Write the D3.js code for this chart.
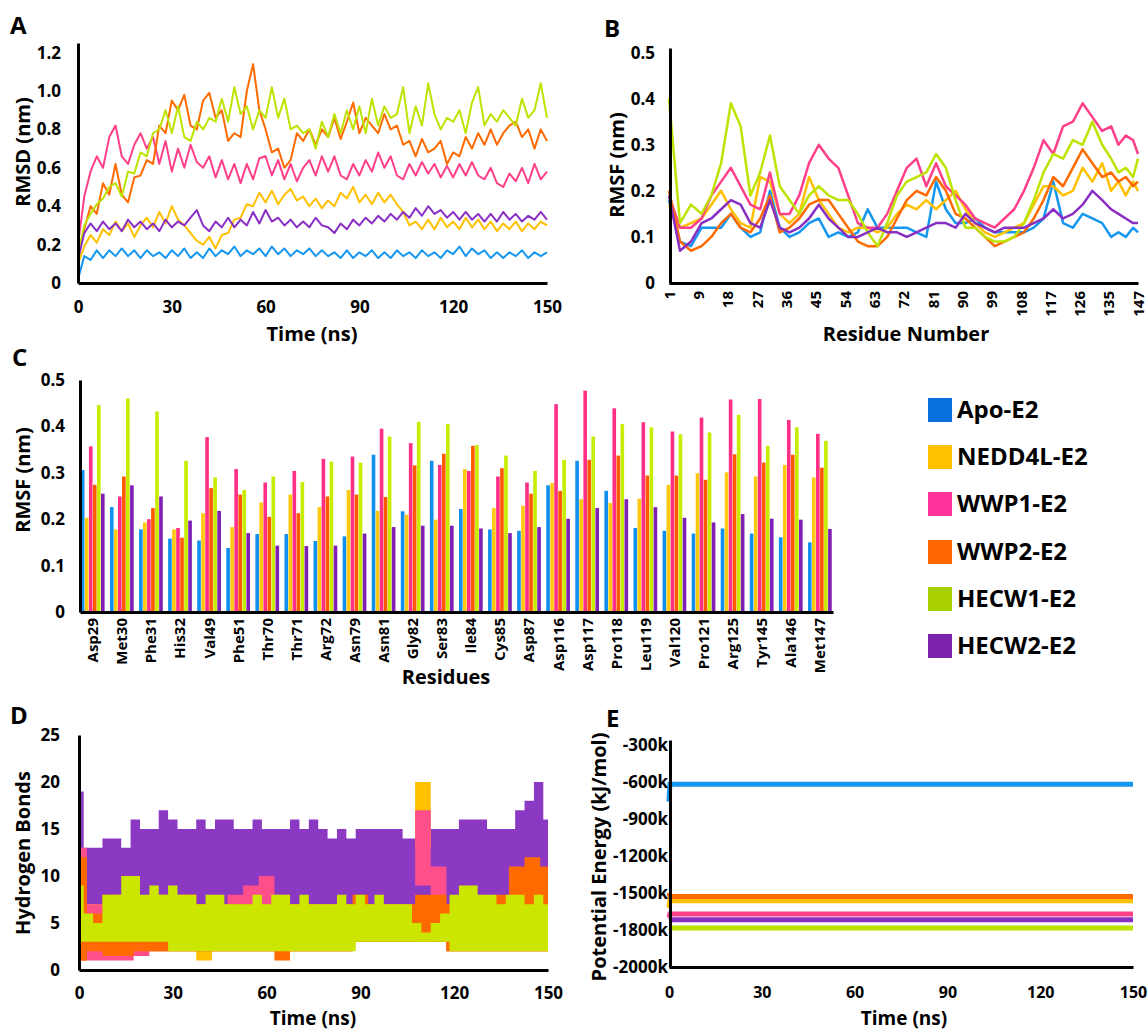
<!DOCTYPE html>
<html>
<head>
<meta charset="utf-8">
<script src="https://cdn.jsdelivr.net/npm/d3@7"></script>
<style>
  body { margin: 0; background: #fff; }
  text { font-family: "Open Sans", sans-serif; font-weight: 700; fill: #000; }
</style>
</head>
<body>
<svg id="fig" width="1148" height="1031"></svg>
<script>
// ---- data ----
const seriesNames = ["Apo-E2", "NEDD4L-E2", "WWP1-E2", "WWP2-E2", "HECW1-E2", "HECW2-E2"]
const lineColors = ["#1597f0", "#ffc000", "#ff3f8a", "#ff6a00", "#bde300", "#8a2fc4"]
const barColors = ["#0f8ff0", "#ffc90e", "#ff2f86", "#ff5a00", "#c8ec00", "#7f1fb5"]
const legendColors = ["#0a70de", "#ffc000", "#ff3399", "#ff6600", "#a8d000", "#7a22ae"]
const dColors = ["#1597f0", "#ffc000", "#ff4f8b", "#ff6a00", "#cbe600", "#8b39c3"]

const timeTicks = [0, 30, 60, 90, 120, 150]

// A: RMSD (nm), every 2 ns
const timeA = d3.range(0, 151, 2)
const rmsdApo = [0.02,0.14,0.12,0.17,0.13,0.17,0.14,0.18,0.14,0.17,
  0.13,0.17,0.14,0.16,0.13,0.17,0.14,0.18,0.13,0.16,
  0.13,0.18,0.14,0.17,0.15,0.19,0.14,0.17,0.15,0.18,
  0.14,0.19,0.15,0.18,0.14,0.17,0.15,0.18,0.14,0.17,
  0.14,0.16,0.13,0.17,0.13,0.16,0.14,0.17,0.13,0.16,
  0.13,0.17,0.14,0.16,0.13,0.17,0.14,0.16,0.13,0.17,
  0.15,0.19,0.14,0.18,0.15,0.17,0.13,0.16,0.13,0.16,
  0.14,0.17,0.13,0.16,0.14,0.16]
const rmsdNEDD4L = [0.10,0.19,0.25,0.21,0.28,0.25,0.32,0.27,0.31,0.24,
  0.30,0.34,0.29,0.37,0.31,0.40,0.33,0.30,0.26,0.22,
  0.20,0.24,0.18,0.25,0.26,0.33,0.34,0.41,0.40,0.47,
  0.42,0.48,0.41,0.46,0.49,0.43,0.45,0.40,0.44,0.39,
  0.43,0.40,0.47,0.44,0.50,0.42,0.46,0.41,0.47,0.42,
  0.46,0.41,0.37,0.30,0.32,0.28,0.33,0.28,0.34,0.29,
  0.32,0.28,0.34,0.29,0.33,0.28,0.32,0.27,0.31,0.28,
  0.32,0.27,0.31,0.28,0.32,0.30]
const rmsdWWP1 = [0.20,0.45,0.58,0.66,0.60,0.76,0.82,0.66,0.62,0.72,
  0.78,0.70,0.76,0.62,0.74,0.58,0.70,0.60,0.72,0.63,
  0.60,0.66,0.55,0.64,0.54,0.62,0.52,0.62,0.54,0.65,
  0.66,0.56,0.64,0.54,0.62,0.53,0.60,0.64,0.56,0.66,
  0.58,0.66,0.56,0.54,0.62,0.56,0.64,0.58,0.68,0.60,
  0.66,0.56,0.54,0.62,0.56,0.63,0.57,0.62,0.55,0.61,
  0.55,0.62,0.56,0.63,0.56,0.54,0.60,0.52,0.50,0.57,
  0.53,0.60,0.52,0.62,0.54,0.58]
const rmsdWWP2 = [0.15,0.28,0.40,0.36,0.52,0.46,0.62,0.46,0.42,0.55,
  0.56,0.64,0.62,0.82,0.78,0.95,0.90,0.98,0.82,0.80,
  0.95,0.99,0.86,0.90,0.74,0.78,0.76,1.00,1.14,0.90,
  0.80,0.68,0.70,0.60,0.64,0.78,0.74,0.80,0.72,0.80,
  0.76,0.86,0.75,0.84,0.94,0.78,0.86,0.82,0.78,0.88,
  0.80,0.82,0.72,0.74,0.66,0.75,0.68,0.70,0.74,0.62,
  0.68,0.66,0.76,0.70,0.78,0.72,0.80,0.72,0.78,0.82,
  0.84,0.76,0.80,0.70,0.80,0.74]
const rmsdHECW1 = [0.15,0.30,0.36,0.41,0.44,0.50,0.52,0.45,0.58,0.57,
  0.68,0.66,0.78,0.80,0.90,0.78,0.92,0.76,0.74,0.84,
  0.80,0.86,0.84,0.96,0.84,1.02,0.88,0.92,0.80,0.90,
  0.86,1.02,0.86,0.96,0.80,0.82,0.78,0.80,0.70,0.84,
  0.76,0.88,0.78,0.90,0.80,0.92,0.78,0.96,0.82,0.92,
  0.86,0.88,1.02,0.78,0.92,0.82,1.04,0.88,0.80,0.86,
  0.84,0.90,0.78,0.94,1.02,0.82,0.88,0.84,0.90,0.86,
  0.82,0.96,0.86,0.90,1.04,0.86]
const rmsdHECW2 = [0.12,0.26,0.31,0.27,0.32,0.28,0.31,0.27,0.33,0.29,
  0.32,0.28,0.31,0.27,0.33,0.29,0.32,0.30,0.34,0.38,
  0.30,0.27,0.32,0.29,0.34,0.29,0.33,0.30,0.37,0.31,
  0.38,0.32,0.34,0.30,0.33,0.29,0.32,0.29,0.34,0.30,
  0.29,0.26,0.31,0.28,0.33,0.30,0.34,0.31,0.35,0.32,
  0.36,0.33,0.37,0.34,0.39,0.35,0.40,0.36,0.38,0.34,
  0.37,0.33,0.37,0.33,0.36,0.32,0.36,0.32,0.37,0.33,
  0.36,0.32,0.35,0.33,0.37,0.33]
const rmsdSeries = [rmsdApo, rmsdNEDD4L, rmsdWWP1, rmsdWWP2, rmsdHECW1, rmsdHECW2]
const rmsdTicks = [0, 0.2, 0.4, 0.6, 0.8, 1.0, 1.2]

// B: RMSF per residue
const residueTicks = [1, 9, 18, 27, 36, 45, 54, 63, 72, 81, 90, 99, 108, 117, 126, 135, 147]
const residueB = d3.range(1, 146, 3).concat([147])
const rmsfApo = [0.18,0.09,0.08,0.12,0.12,0.12,0.15,0.12,0.10,0.11,
  0.20,0.12,0.10,0.11,0.13,0.14,0.10,0.11,0.10,0.11,
  0.16,0.12,0.12,0.12,0.12,0.11,0.10,0.22,0.16,0.13,
  0.13,0.14,0.12,0.11,0.11,0.11,0.11,0.12,0.14,0.22,
  0.13,0.12,0.15,0.14,0.13,0.10,0.11,0.10,0.12,0.11]
const rmsfNEDD4L = [0.17,0.12,0.13,0.14,0.17,0.20,0.16,0.13,0.12,0.23,
  0.22,0.15,0.13,0.15,0.23,0.18,0.15,0.12,0.11,0.12,
  0.12,0.11,0.12,0.15,0.17,0.16,0.18,0.16,0.18,0.20,
  0.16,0.13,0.11,0.10,0.11,0.12,0.13,0.17,0.21,0.21,
  0.19,0.20,0.25,0.22,0.26,0.20,0.22,0.19,0.22,0.20]
const rmsfWWP1 = [0.19,0.12,0.12,0.14,0.19,0.22,0.25,0.21,0.17,0.16,
  0.24,0.15,0.15,0.19,0.26,0.30,0.27,0.25,0.19,0.13,
  0.12,0.12,0.15,0.20,0.25,0.27,0.21,0.26,0.21,0.19,
  0.17,0.14,0.13,0.12,0.14,0.16,0.20,0.25,0.31,0.28,
  0.34,0.35,0.39,0.36,0.33,0.34,0.30,0.32,0.31,0.28]
const rmsfWWP2 = [0.20,0.09,0.07,0.08,0.10,0.13,0.15,0.12,0.11,0.14,
  0.19,0.11,0.12,0.14,0.17,0.18,0.18,0.15,0.12,0.09,
  0.08,0.08,0.10,0.14,0.18,0.20,0.19,0.23,0.20,0.15,
  0.14,0.12,0.10,0.08,0.09,0.10,0.11,0.14,0.18,0.23,
  0.21,0.25,0.29,0.26,0.23,0.24,0.22,0.23,0.21,0.22]
const rmsfHECW1 = [0.40,0.13,0.17,0.15,0.19,0.26,0.39,0.34,0.19,0.24,
  0.32,0.21,0.18,0.15,0.19,0.21,0.19,0.18,0.18,0.15,
  0.11,0.08,0.13,0.19,0.22,0.23,0.24,0.28,0.25,0.18,
  0.12,0.12,0.10,0.09,0.09,0.10,0.13,0.18,0.24,0.28,
  0.27,0.31,0.30,0.35,0.30,0.27,0.24,0.25,0.23,0.27]
const rmsfHECW2 = [0.19,0.07,0.09,0.13,0.14,0.16,0.18,0.17,0.13,0.12,
  0.18,0.12,0.11,0.12,0.14,0.17,0.14,0.12,0.10,0.10,
  0.11,0.12,0.11,0.11,0.10,0.11,0.12,0.13,0.13,0.12,
  0.15,0.13,0.12,0.11,0.12,0.12,0.12,0.13,0.14,0.16,
  0.14,0.15,0.17,0.20,0.18,0.16,0.15,0.14,0.13,0.13]
const rmsfSeries = [rmsfApo, rmsfNEDD4L, rmsfWWP1, rmsfWWP2, rmsfHECW1, rmsfHECW2]
const rmsfTicks = [0, 0.1, 0.2, 0.3, 0.4, 0.5]

// C: RMSF of selected residues
const residuesC = ["Asp29","Met30","Phe31","His32","Val49","Phe51","Thr70","Thr71","Arg72","Asn79",
  "Asn81","Gly82","Ser83","Ile84","Cys85","Asp87","Asp116","Asp117","Pro118","Leu119",
  "Val120","Pro121","Arg125","Tyr145","Ala146","Met147"]
const barApo = [0.306,0.226,0.178,0.158,0.154,0.138,0.168,0.168,0.153,0.163,0.339,0.217,0.326,0.222,0.178,0.175,0.273,0.326,0.261,0.181,0.175,0.169,0.180,0.169,0.161,0.150]
const barNEDD4L = [0.203,0.178,0.193,0.178,0.213,0.183,0.236,0.253,0.226,0.263,0.218,0.210,0.199,0.308,0.224,0.229,0.278,0.243,0.235,0.244,0.274,0.299,0.301,0.292,0.317,0.290]
const barWWP1 = [0.357,0.249,0.200,0.181,0.377,0.308,0.279,0.304,0.330,0.335,0.395,0.364,0.317,0.304,0.292,0.279,0.448,0.477,0.439,0.409,0.389,0.419,0.458,0.459,0.414,0.384]
const barWWP2 = [0.274,0.292,0.224,0.160,0.267,0.253,0.205,0.213,0.249,0.253,0.248,0.316,0.341,0.358,0.310,0.255,0.261,0.328,0.337,0.294,0.294,0.285,0.340,0.322,0.339,0.311]
const barHECW1 = [0.446,0.460,0.432,0.326,0.290,0.263,0.292,0.280,0.324,0.322,0.378,0.410,0.405,0.360,0.337,0.304,0.328,0.378,0.405,0.398,0.383,0.387,0.425,0.358,0.398,0.369]
const barHECW2 = [0.255,0.273,0.249,0.197,0.218,0.170,0.143,0.142,0.143,0.169,0.183,0.186,0.186,0.180,0.170,0.183,0.201,0.224,0.243,0.226,0.203,0.193,0.211,0.201,0.199,0.179]
const barSeries = [barApo, barNEDD4L, barWWP1, barWWP2, barHECW1, barHECW2]

// D: hydrogen bonds, shown as min/max band per time bin
const timeD3 = d3.range(0, 151, 3)
const timeD5 = d3.range(0, 151, 5)
const hbHECW2Lo = [7,6,6,6,6,6,6,6,6,6, 6,6,6,6,6,6,6,6,6,6, 6,6,6,6,6,6,6,6,6,6, 6,6,6,6,6,6,5,4,4,5, 6,6,6,6,6,6,6,6,6,6, 6]
const hbHECW2Hi = [19,13,13,14,14,13,16,15,15,17, 16,15,15,16,15,16,16,15,15,16, 15,15,15,16,15,16,15,14,15,14, 15,15,15,15,15,14,14,15,15,15, 15,16,16,16,15,15,15,17,18,20, 16]
const hbHECW1Lo = [3,3,3,3,3,3,3,3,3,3, 2,2,2,2,2,2,2,2,2,2, 2,2,2,2,2,2,2,2,2,2, 3,3,3,3,3,3,3,3,3,3, 2,2,2,2,2,2,2,2,2,2, 2]
const hbHECW1Hi = [9,6,5,8,8,10,10,8,9,8, 9,8,8,7,8,8,7,7,7,8, 7,8,8,7,8,7,7,7,8,7, 8,7,8,7,7,7,5,4,5,6, 8,9,9,8,8,7,8,8,7,8, 7]
const hbWWP1Lo = [1,1,1,1,1.5,2,2,2,2,2, 2,2,2,2,2,2,2,2,3,3, 3,3,9,3,2,2,2,2,2,2, 2]
const hbWWP1Hi = [13,7,7,8,7,7,7,8,7,7, 8,9,10,8,7,7,7,7,7,7, 7,7,17,11,7,7,7,7,8,7, 7]
const hbWWP2Lo = [1,2,1.5,1.5,2,2,2,2,2,2, 2,2,2,1,2,2,2,2,3,3, 3,3,3,3,2,2,2,2,2,2, 2]
const hbWWP2Hi = [12,6,8,8,7,8,7,8,7,7, 7,7,7,7,7,7,7,7,8,7, 7,7,8,8,7,8,7,8,11,12, 11]
const hbNEDD4LLo = [1,2,2,2,2,2,2,2,1,2, 2,2,2,2,2,2,2,2,3,3, 3,3,13,3,2,2,2,2,2,2, 2]
const hbNEDD4LHi = [12,7,7,7,7,7,8,7,7,7, 7,7,7,7,7,7,7,7,7,7, 7,7,20,7,7,7,7,7,7,7, 7]
const hbTicks = [0, 5, 10, 15, 20, 25]

// E: potential energy (kJ/mol)
const timeE = [0, 0.3, 150]
const peApo = [-760000, -618000, -618000]
const peNEDD4L = [-1620000, -1564000, -1564000]
const peWWP1 = [-1700000, -1670000, -1670000]
const peWWP2 = [-1500000, -1529000, -1529000]
const peHECW1 = [-1780000, -1783000, -1783000]
const peHECW2 = [-1720000, -1718000, -1718000]
const peSeries = [peApo, peNEDD4L, peWWP1, peWWP2, peHECW1, peHECW2]
const peTicks = [-300000, -600000, -900000, -1200000, -1500000, -1800000, -2100000]
const peTickLabels = ["-300k", "-600k", "-900k", "-1200k", "-1500k", "-1800k", "-2000k"]

// ---- drawing ----
const svg = d3.select("#fig")
const fmt1 = d => d === 0 ? "0" : d.toFixed(1)

function styleAxis(g, size) {
  g.select(".domain").attr("stroke", "#000").attr("stroke-width", 3)
  g.selectAll("text")
    .attr("font-family", "'Open Sans', sans-serif")
    .attr("font-weight", 700)
    .attr("font-size", size)
    .attr("fill", "#000")
}

function panelLetter(txt, x, y) {
  svg.append("text").attr("x", x).attr("y", y).attr("font-size", 24).text(txt)
}

function yTitle(txt, x, y) {
  svg.append("text")
    .attr("transform", `translate(${x},${y}) rotate(-90)`)
    .attr("text-anchor", "middle").attr("font-size", 20).text(txt)
}

function xTitle(txt, x, y, size) {
  svg.append("text").attr("x", x).attr("y", y)
    .attr("text-anchor", "middle").attr("font-size", size || 20).text(txt)
}

// Panel A
const xA = d3.scaleLinear().domain([0, 150]).range([78, 547])
const yA = d3.scaleLinear().domain([0, 1.25]).range([283, 43])
const lineA = d3.line().x((d, i) => xA(timeA[i])).y(d => yA(d))
svg.append("g").selectAll("path")
  .data(rmsdSeries)
  .enter().append("path")
    .attr("d", lineA)
    .attr("fill", "none")
    .attr("stroke", (d, i) => lineColors[i])
    .attr("stroke-width", 2)
    .attr("stroke-linejoin", "round")
svg.append("g").attr("transform", "translate(0,283)")
  .call(d3.axisBottom(xA).tickValues(timeTicks).tickSize(0).tickSizeOuter(0).tickPadding(18))
  .call(g => styleAxis(g, 17))
svg.append("g").attr("transform", "translate(78,0)")
  .call(d3.axisLeft(yA).tickValues(rmsdTicks).tickFormat(fmt1).tickSize(0).tickSizeOuter(0).tickPadding(17))
  .call(g => styleAxis(g, 17))
panelLetter("A", 10, 34)
yTitle("RMSD (nm)", 30, 152)
xTitle("Time (ns)", 312, 341)

// Panel B
const xB = d3.scaleLinear().domain(residueTicks)
  .range(residueTicks.map((d, i) => 669 + i * (1138 - 669) / (residueTicks.length - 1)))
const yB = d3.scaleLinear().domain([0, 0.51]).range([283, 48])
const lineB = d3.line().x((d, i) => xB(residueB[i])).y(d => yB(d))
svg.append("g").selectAll("path")
  .data(rmsfSeries)
  .enter().append("path")
    .attr("d", lineB)
    .attr("fill", "none")
    .attr("stroke", (d, i) => lineColors[i])
    .attr("stroke-width", 2.5)
    .attr("stroke-linejoin", "round")
svg.append("g").attr("transform", "translate(0,283)")
  .call(d3.axisBottom(xB).tickValues(residueTicks).tickFormat(d3.format("d")).tickSize(0).tickSizeOuter(0))
  .call(g => styleAxis(g, 15))
  .call(g => g.selectAll(".tick text")
    .attr("transform", "rotate(-90)").attr("text-anchor", "end")
    .attr("x", -8).attr("y", 0).attr("dy", "0.35em"))
svg.append("g").attr("transform", "translate(670,0)")
  .call(d3.axisLeft(yB).tickValues(rmsfTicks).tickFormat(fmt1).tickSize(0).tickSizeOuter(0).tickPadding(15))
  .call(g => styleAxis(g, 17))
panelLetter("B", 604, 37)
yTitle("RMSF (nm)", 624, 165)
xTitle("Residue Number", 906, 341)

// Panel C
const xC = d3.scaleBand().domain(residuesC).range([80, 833]).paddingInner(0.17).paddingOuter(0.03)
const xCi = d3.scaleBand().domain(seriesNames).range([0, xC.bandwidth()])
const yC = d3.scaleLinear().domain([0, 0.5]).range([612, 380])
const groups = svg.append("g").selectAll("g")
  .data(residuesC)
  .enter().append("g")
    .attr("transform", d => `translate(${xC(d)},0)`)
groups.selectAll("rect")
  .data((d, j) => seriesNames.map((s, i) => ({ s: s, i: i, v: barSeries[i][j] })))
  .enter().append("rect")
    .attr("x", d => xCi(d.s))
    .attr("width", xCi.bandwidth() - 0.4)
    .attr("y", d => yC(d.v))
    .attr("height", d => yC(0) - yC(d.v))
    .attr("fill", d => barColors[d.i])
svg.append("g").attr("transform", "translate(0,612)")
  .call(d3.axisBottom(xC).tickSize(0).tickSizeOuter(0))
  .call(g => styleAxis(g, 15))
  .call(g => g.selectAll(".tick text")
    .attr("transform", "rotate(-90)").attr("text-anchor", "end")
    .attr("x", -6).attr("y", 0).attr("dy", "0.35em"))
svg.append("g").attr("transform", "translate(80,0)")
  .call(d3.axisLeft(yC).tickValues(rmsfTicks).tickFormat(fmt1).tickSize(0).tickSizeOuter(0).tickPadding(15))
  .call(g => styleAxis(g, 17))
panelLetter("C", 12, 366)
yTitle("RMSF (nm)", 30, 480)
xTitle("Residues", 446, 684)

// Legend
const legend = svg.append("g").attr("transform", "translate(928,0)")
const legendY = [410, 457, 504, 552, 599, 646]
seriesNames.forEach((s, i) => {
  legend.append("rect").attr("x", 0).attr("y", legendY[i] - 12).attr("width", 24).attr("height", 24)
    .attr("fill", legendColors[i])
  legend.append("text").attr("x", 29).attr("y", legendY[i] + 8).attr("font-size", 24).text(s)
})

// Panel D
const xD = d3.scaleLinear().domain([0, 150]).range([79, 548])
const yD = d3.scaleLinear().domain([0, 25]).range([970, 735])
const bandsD = [
  { c: 5, t: timeD3, lo: hbHECW2Lo, hi: hbHECW2Hi },
  { c: 1, t: timeD5, lo: hbNEDD4LLo, hi: hbNEDD4LHi },
  { c: 2, t: timeD5, lo: hbWWP1Lo, hi: hbWWP1Hi },
  { c: 3, t: timeD5, lo: hbWWP2Lo, hi: hbWWP2Hi },
  { c: 4, t: timeD3, lo: hbHECW1Lo, hi: hbHECW1Hi }
]
svg.append("g").selectAll("path")
  .data(bandsD)
  .enter().append("path")
    .attr("d", b => d3.area().curve(d3.curveStep)
      .x((d, i) => xD(b.t[i]))
      .y0((d, i) => yD(b.lo[i]))
      .y1((d, i) => yD(b.hi[i]))(b.t))
    .attr("fill", b => dColors[b.c])
svg.append("g").attr("transform", "translate(0,970)")
  .call(d3.axisBottom(xD).tickValues(timeTicks).tickSize(0).tickSizeOuter(0).tickPadding(17))
  .call(g => styleAxis(g, 17))
svg.append("g").attr("transform", "translate(79,0)")
  .call(d3.axisLeft(yD).tickValues(hbTicks).tickSize(0).tickSizeOuter(0).tickPadding(19))
  .call(g => styleAxis(g, 17))
panelLetter("D", 10, 724)
yTitle("Hydrogen Bonds", 30, 853)
xTitle("Time (ns)", 313, 1025, 19)

// Panel E
const xE = d3.scaleLinear().domain([0, 150]).range([669, 1133])
const yE = d3.scaleLinear().domain([-2100000, -260000]).range([967, 740])
const lineE = d3.line().x((d, i) => xE(timeE[i])).y(d => yE(d))
svg.append("g").selectAll("path")
  .data(peSeries)
  .enter().append("path")
    .attr("d", lineE)
    .attr("fill", "none")
    .attr("stroke", (d, i) => lineColors[i])
    .attr("stroke-width", 5)
svg.append("g").attr("transform", "translate(0,967)")
  .call(d3.axisBottom(xE).tickValues(timeTicks).tickSize(0).tickSizeOuter(0).tickPadding(20))
  .call(g => styleAxis(g, 16))
svg.append("g").attr("transform", "translate(670,0)")
  .call(d3.axisLeft(yE).tickValues(peTicks).tickFormat((d, i) => peTickLabels[i]).tickSize(0).tickSizeOuter(0).tickPadding(2))
  .call(g => styleAxis(g, 17))
panelLetter("E", 606, 727)
yTitle("Potential Energy (kJ/mol)", 606, 857)
xTitle("Time (ns)", 904, 1025, 19)
</script>
</body>
</html>
